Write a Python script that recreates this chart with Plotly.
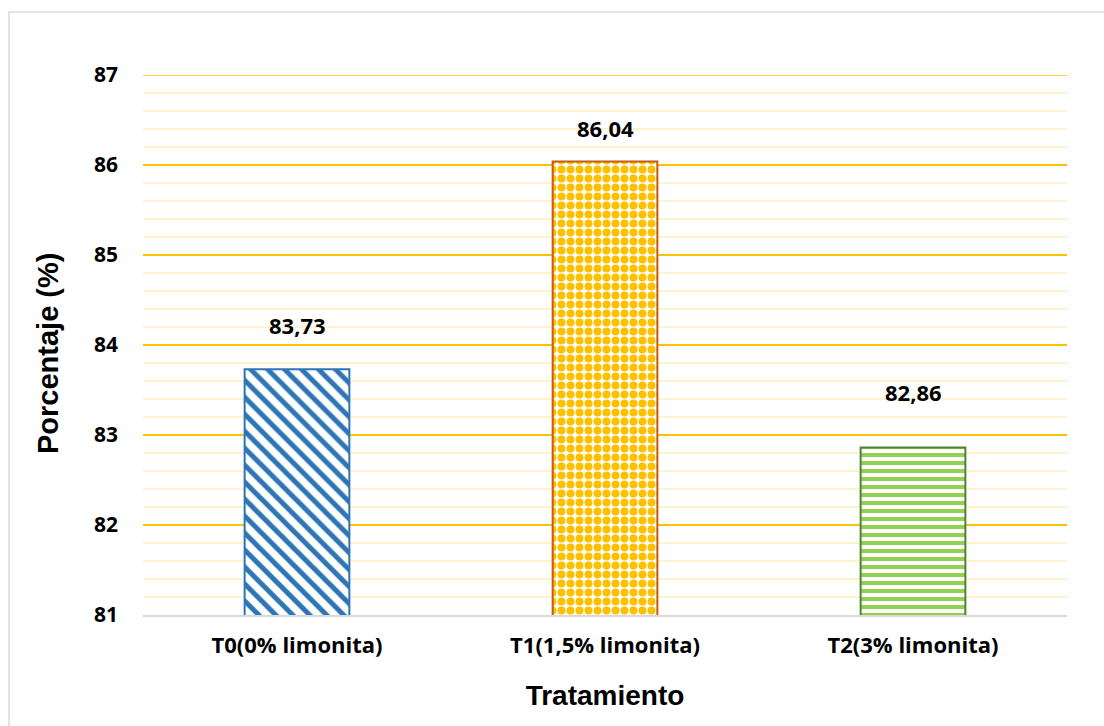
import plotly.graph_objects as go

# Data
categories = ["T0(0% limonita)", "T1(1,5% limonita)", "T2(3% limonita)"]
values = [83.73, 86.04, 82.86]
value_labels = ["83,73", "86,04", "82,86"]
y_ticks = [81, 82, 83, 84, 85, 86, 87]

# Styles per bar
line_colors = ["#2E75B6", "#C55A11", "#548235"]
pattern_colors = ["#2E75B6", "#FFC000", "#92D050"]
pattern_shapes = ["\\", ".", "-"]
pattern_sizes = [12, 9, 8]
pattern_solidity = [0.42, 0.62, 0.5]
label_offsets = [44, 33, 56]  # px above bar top

LABEL_FONT = "Open Sans"
TITLE_FONT = "Liberation Sans"

fig = go.Figure()
for i, (cat, val) in enumerate(zip(categories, values)):
    fig.add_trace(go.Bar(
        x=[cat], y=[val],
        width=0.34,
        marker=dict(
            color="white",
            line=dict(color=line_colors[i], width=2),
            pattern=dict(shape=pattern_shapes[i], fgcolor=pattern_colors[i],
                         bgcolor="white", size=pattern_sizes[i],
                         solidity=pattern_solidity[i], fillmode="replace",
                         fgopacity=1),
        ),
        showlegend=False,
        hoverinfo="skip",
    ))

for cat, val, lab, off in zip(categories, values, value_labels, label_offsets):
    fig.add_annotation(x=cat, y=val, text=lab, showarrow=False, yshift=off,
                       font=dict(family=LABEL_FONT, size=22, color="#000000", weight="bold"))

# Vertical axis title
fig.add_annotation(xref="paper", yref="paper", x=(48 - 143) / 924, y=(615 - 354) / 540,
                   text="Porcentaje (%)", textangle=-90, showarrow=False,
                   xanchor="center", yanchor="middle",
                   font=dict(family=TITLE_FONT, size=29, color="#000000", weight="bold"))

fig.update_layout(
    width=1104, height=726,
    margin=dict(l=143, r=37, t=75, b=111),
    paper_bgcolor="white", plot_bgcolor="white",
    barmode="overlay",
    xaxis=dict(
        categoryorder="array", categoryarray=categories,
        showline=True, linecolor="#D9D9D9", linewidth=2,
        showgrid=False, ticks="",
        tickfont=dict(family=LABEL_FONT, size=22, color="#000000", weight="bold"),
        ticklabelstandoff=10,
        title=dict(text="Tratamiento", standoff=27,
                   font=dict(family=TITLE_FONT, size=28, color="#000000", weight="bold")),
    ),
    yaxis=dict(
        range=[81, 87], tickvals=y_ticks,
        showline=False, zeroline=False,
        gridcolor="#FFC000", gridwidth=1.5,
        minor=dict(dtick=0.2, tick0=81, showgrid=True, gridcolor="#FFF2CC", gridwidth=1.5),
        tickfont=dict(family=LABEL_FONT, size=21, color="#000000", weight="bold"),
        ticks="", ticklabelstandoff=24,
    ),
    shapes=[
        dict(type="rect", xref="paper", yref="paper",
             x0=(9 - 143) / 924, x1=1.3, y0=-0.4, y1=(615 - 12) / 540,
             line=dict(color="#D9D9D9", width=1.5), layer="below"),
        # top major gridline, which sits on the plot edge
        dict(type="line", xref="paper", yref="y", x0=0, x1=1,
             y0=y_ticks[-1], y1=y_ticks[-1],
             line=dict(color="#FFC000", width=1.5), layer="below"),
    ],
)

fig.write_html("out.html")
